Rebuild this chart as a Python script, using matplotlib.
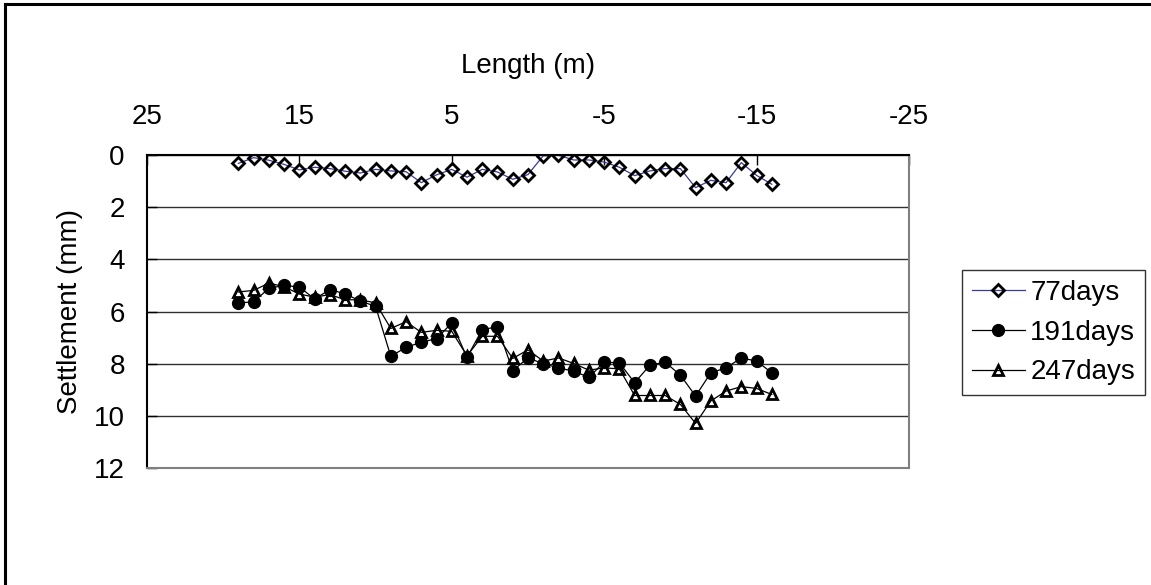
import matplotlib
matplotlib.use('Agg')
import matplotlib.pyplot as plt
from matplotlib.lines import Line2D

plt.rcParams['font.family'] = ['Liberation Sans', 'DejaVu Sans']
plt.rcParams['axes.unicode_minus'] = False

# distancia a lo largo de la sección (m)
longitud = list(range(19, -17, -1))

# asientos medidos (mm)
asiento_77 = [0.32, 0.10, 0.20, 0.36, 0.57, 0.47, 0.52, 0.62, 0.69, 0.55,
              0.61, 0.64, 1.06, 0.76, 0.55, 0.85, 0.55, 0.65, 0.93, 0.75,
              0.03, 0.01, 0.19, 0.19, 0.27, 0.47, 0.79, 0.61, 0.52, 0.52,
              1.25, 0.97, 1.06, 0.29, 0.78, 1.12]
asiento_191 = [5.67, 5.63, 5.11, 5.00, 5.06, 5.52, 5.16, 5.32, 5.60, 5.80,
               7.72, 7.37, 7.18, 7.04, 6.44, 7.76, 6.69, 6.59, 8.27, 7.78,
               8.00, 8.16, 8.29, 8.52, 7.94, 7.97, 8.73, 8.06, 7.94, 8.44,
               9.24, 8.35, 8.16, 7.78, 7.90, 8.35]
asiento_247 = [5.25, 5.19, 4.91, 5.05, 5.33, 5.45, 5.35, 5.55, 5.55, 5.67,
               6.65, 6.39, 6.80, 6.72, 6.76, 7.70, 6.95, 6.95, 7.80, 7.47,
               7.90, 7.78, 7.99, 8.25, 8.16, 8.20, 9.22, 9.22, 9.22, 9.56,
               10.29, 9.43, 9.05, 8.88, 8.95, 9.18]

etiquetas = ['77days', '191days', '247days']
ticks_x = [25, 15, 5, -5, -15, -25]
ticks_y = [0, 2, 4, 6, 8, 10, 12]

fig = plt.figure(figsize=(11.51, 5.85), dpi=100)
ax = fig.add_axes([0.1277, 0.2, 0.662, 0.535])

ax.plot(longitud, asiento_77, color='#3a3a9a', lw=0.9, marker='D', ms=6.5,
        mfc='none', mec='black', mew=2, label=etiquetas[0])
ax.plot(longitud, asiento_191, color='black', lw=0.9, marker='o', ms=8.5,
        mfc='black', mec='black', label=etiquetas[1])
ax.plot(longitud, asiento_247, color='black', lw=0.9, marker='^', ms=7.5,
        mfc='none', mec='black', mew=2, label=etiquetas[2])

# ejes: longitud arriba e invertida, asiento hacia abajo
ax.set_xlim(25, -25)
ax.set_ylim(12, 0)
ax.xaxis.tick_top()
ax.xaxis.set_label_position('top')
ax.set_xticks(ticks_x)
ax.set_yticks(ticks_y)
ax.tick_params(axis='x', direction='in', length=7, width=1, pad=18, labelsize=20)
ax.tick_params(axis='y', direction='in', length=7, width=1, pad=16, labelsize=20)
ax.set_xlabel('Length (m)', fontsize=20, labelpad=22)
ax.set_ylabel('Settlement (mm)', fontsize=20, labelpad=8)

ax.yaxis.grid(True, color='#303030', lw=1)
ax.set_axisbelow(True)
for lado in ['top', 'left']:
    ax.spines[lado].set_color('black')
    ax.spines[lado].set_linewidth(1.5)
for lado in ['bottom', 'right']:
    ax.spines[lado].set_color('#808080')
    ax.spines[lado].set_linewidth(1.5)

ley = fig.legend(loc='center left', bbox_to_anchor=(0.836, 0.4316),
                 fontsize=20, frameon=True, fancybox=False, handlelength=1.9,
                 handletextpad=0.2, labelspacing=0.5, borderpad=0.35,
                 borderaxespad=0)
ley.get_frame().set_edgecolor('black')
ley.get_frame().set_linewidth(1)

# marco exterior del gráfico
fig.add_artist(Line2D([0.0045, 0.0045], [0, 0.993], color='black', lw=2.2))
fig.add_artist(Line2D([0.0045, 1], [0.993, 0.993], color='black', lw=2.2))

fig.savefig('out.png', dpi=100)
